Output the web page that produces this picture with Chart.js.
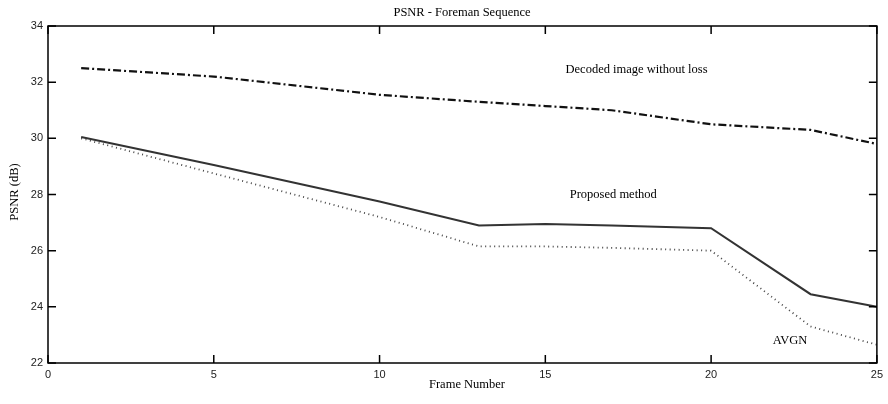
<!DOCTYPE html>
<html>
<head>
<meta charset="utf-8">
<script src="https://cdn.jsdelivr.net/npm/chart.js@4"></script>
<style>
  html, body { margin: 0; padding: 0; background: #fff; }
  #wrap { width: 888px; height: 404px; }
</style>
</head>
<body>
<div id="wrap"><canvas id="psnr"></canvas></div>
<script>
// datos
const frames = [1, 5, 10, 13, 15, 17, 20, 23, 25];
const decoded = [32.5, 32.2, 31.55, 31.3, 31.15, 31.0, 30.5, 30.3, 29.8];
const proposed = [30.05, 29.05, 27.75, 26.9, 26.95, 26.9, 26.8, 24.45, 24.0];
const avgn = [30.0, 28.75, 27.2, 26.15, 26.15, 26.1, 26.0, 23.3, 22.65];
const xTicks = [0, 5, 10, 15, 20, 25];
const yTicks = [22, 24, 26, 28, 30, 32, 34];

const toPoints = (vals) => vals.map((v, i) => ({ x: frames[i], y: v }));

// caja con marcas hacia dentro y textos
const framePlugin = {
  id: 'framePlugin',
  afterDraw(chart) {
    const { ctx, chartArea: a, scales } = chart;
    ctx.save();
    ctx.strokeStyle = '#000';
    ctx.lineWidth = 1.5;
    ctx.strokeRect(a.left, a.top, a.right - a.left, a.bottom - a.top);
    ctx.beginPath();
    xTicks.forEach(t => {
      const px = scales.x.getPixelForValue(t);
      ctx.moveTo(px, a.bottom); ctx.lineTo(px, a.bottom - 8);
      ctx.moveTo(px, a.top); ctx.lineTo(px, a.top + 8);
    });
    yTicks.forEach(t => {
      const py = scales.y.getPixelForValue(t);
      ctx.moveTo(a.left, py); ctx.lineTo(a.left + 8, py);
      ctx.moveTo(a.right, py); ctx.lineTo(a.right - 8, py);
    });
    ctx.stroke();

    ctx.fillStyle = '#000';
    ctx.font = '12.5px "Liberation Serif"';
    ctx.textAlign = 'center';
    ctx.textBaseline = 'middle';
    ctx.fillText('PSNR - Foreman Sequence', 462, 13);
    ctx.fillText('Frame Number', 467, 385);
    ctx.fillText('Decoded image without loss', scales.x.getPixelForValue(17.75), scales.y.getPixelForValue(32.43));
    ctx.fillText('Proposed method', scales.x.getPixelForValue(17.05), scales.y.getPixelForValue(28.0));
    ctx.fillText('AVGN', scales.x.getPixelForValue(22.38), scales.y.getPixelForValue(22.78));
    ctx.translate(15, 192);
    ctx.rotate(-Math.PI / 2);
    ctx.fillText('PSNR (dB)', 0, 0);
    ctx.restore();
  }
};

new Chart(document.getElementById('psnr'), {
  type: 'line',
  data: {
    datasets: [
      {
        label: 'Decoded image without loss',
        data: toPoints(decoded),
        borderColor: '#111',
        borderWidth: 2.2,
        borderDash: [8, 3, 2, 3],
        pointRadius: 0,
        tension: 0,
      },
      {
        label: 'Proposed method',
        data: toPoints(proposed),
        borderColor: '#333',
        borderWidth: 2,
        pointRadius: 0,
        tension: 0,
      },
      {
        label: 'AVGN',
        data: toPoints(avgn),
        borderColor: '#444',
        borderWidth: 1.8,
        borderDash: [1, 3.5],
        pointRadius: 0,
        tension: 0,
      },
    ],
  },
  options: {
    responsive: true,
    maintainAspectRatio: false,
    animation: false,
    layout: { padding: { top: 26, right: 9, left: 0, bottom: 0 } },
    plugins: {
      legend: { display: false },
      tooltip: { enabled: false },
    },
    scales: {
      x: {
        type: 'linear',
        min: 0,
        max: 25,
        afterFit: (s) => { s.height = 41; },
        afterBuildTicks: (s) => { s.ticks = xTicks.map(v => ({ value: v })); },
        grid: { display: false, drawTicks: false },
        border: { display: false },
        ticks: { color: '#222', padding: 5, font: { family: 'Liberation Sans', size: 11 } },
      },
      y: {
        min: 22,
        max: 34,
        afterFit: (s) => { s.width = 48; },
        afterBuildTicks: (s) => { s.ticks = yTicks.map(v => ({ value: v })); },
        grid: { display: false, drawTicks: false },
        border: { display: false },
        ticks: { color: '#222', padding: 5, font: { family: 'Liberation Sans', size: 11 } },
      },
    },
  },
  plugins: [framePlugin],
});
</script>
</body>
</html>
